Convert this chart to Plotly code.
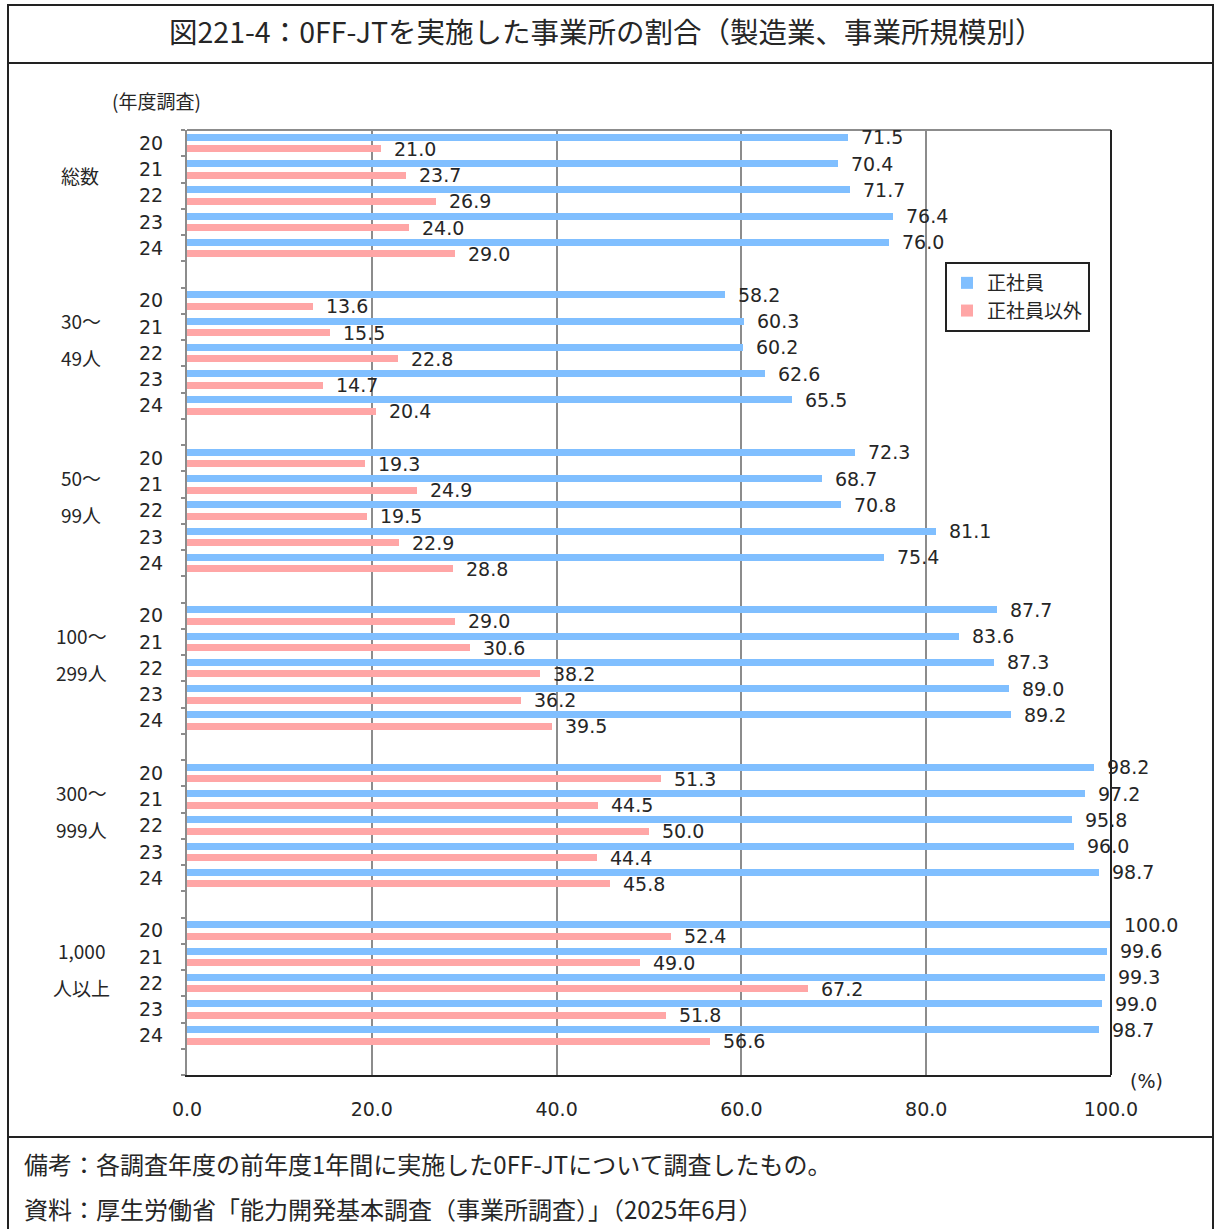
import plotly.graph_objects as go

# ---- data -------------------------------------------------------------
years = ["20", "21", "22", "23", "24"]
group_line1 = ["総数", "30～", "50～", "100～", "300～", "1,000"]
group_line2 = ["", "49人", "99人", "299人", "999人", "人以上"]

regular = [
    [71.5, 70.4, 71.7, 76.4, 76.0],
    [58.2, 60.3, 60.2, 62.6, 65.5],
    [72.3, 68.7, 70.8, 81.1, 75.4],
    [87.7, 83.6, 87.3, 89.0, 89.2],
    [98.2, 97.2, 95.8, 96.0, 98.7],
    [100.0, 99.6, 99.3, 99.0, 98.7],
]
non_regular = [
    [21.0, 23.7, 26.9, 24.0, 29.0],
    [13.6, 15.5, 22.8, 14.7, 20.4],
    [19.3, 24.9, 19.5, 22.9, 28.8],
    [29.0, 30.6, 38.2, 36.2, 39.5],
    [51.3, 44.5, 50.0, 44.4, 45.8],
    [52.4, 49.0, 67.2, 51.8, 56.6],
]
series_names = ["正社員", "正社員以外"]
x_ticks = [0, 20, 40, 60, 80, 100]

title_text = "図221-4：0FF-JTを実施した事業所の割合（製造業、事業所規模別）"
note_text = "備考：各調査年度の前年度1年間に実施した0FF-JTについて調査したもの。"
source_text = "資料：厚生労働省「能力開発基本調査（事業所調査）」（2025年6月）"

# ---- layout helpers -----------------------------------------------------
W, H = 1215, 1229
BLUE = "#80bfff"
PINK = "#ffa6a6"
TXT = "#262626"
GRID = "#8c8c8c"
JP = "Noto Sans CJK JP"
NUM = "DejaVu Sans"


def px(x):
    return x / W


def py(y):
    return 1 - y / H


SLOT = 6            # 5 years + 1 blank slot per group
OFF = 0.22          # vertical offset of each series from slot centre
BAR_W = 0.26

pos, ylab = [], []
for g in range(len(regular)):
    for i, yr in enumerate(years):
        pos.append(g * SLOT + i)
        ylab.append(yr)

reg_flat = [v for grp in regular for v in grp]
non_flat = [v for grp in non_regular for v in grp]
n_slots = len(regular) * SLOT - 1

fig = go.Figure()
fig.add_trace(go.Bar(
    x=reg_flat, y=[p - OFF for p in pos], orientation="h", width=BAR_W,
    marker=dict(color=BLUE, line=dict(width=0)), name=series_names[0],
    legendgroup="a", hoverinfo="x",
))
fig.add_trace(go.Bar(
    x=non_flat, y=[p + OFF for p in pos], orientation="h", width=BAR_W,
    marker=dict(color=PINK, line=dict(width=0)), name=series_names[1],
    legendgroup="b", hoverinfo="x",
))

ann = []
# value labels at the end of every bar
for vals, sign in ((reg_flat, -1), (non_flat, 1)):
    for v, p in zip(vals, pos):
        ann.append(dict(
            x=v, y=p + sign * OFF, xref="x", yref="y", text=f"{v:.1f}",
            showarrow=False, xanchor="left", xshift=11,
            font=dict(family=NUM, size=19, color=TXT),
        ))

# size-class labels on the left
for g, (l1, l2) in enumerate(zip(group_line1, group_line2)):
    base = g * SLOT
    if l2:
        ann.append(dict(x=px(81), y=base + 0.75, xref="paper", yref="y", text=l1,
                        showarrow=False, xanchor="center",
                        font=dict(family=JP, size=19, color=TXT)))
        ann.append(dict(x=px(81), y=base + 2.15, xref="paper", yref="y", text=l2,
                        showarrow=False, xanchor="center",
                        font=dict(family=JP, size=19, color=TXT)))
    else:
        ann.append(dict(x=px(80), y=base + 1.25, xref="paper", yref="y", text=l1,
                        showarrow=False, xanchor="center",
                        font=dict(family=JP, size=19, color=TXT)))

# free text
ann += [
    dict(x=px(606), y=py(30), xref="paper", yref="paper", text=title_text,
         showarrow=False, xanchor="center", yanchor="middle",
         font=dict(family=JP, size=28.5, color=TXT)),
    dict(x=px(110), y=py(101), xref="paper", yref="paper", text="(年度調査)",
         showarrow=False, xanchor="left", yanchor="middle",
         font=dict(family=JP, size=19, color=TXT)),
    dict(x=px(1146), y=py(1081), xref="paper", yref="paper", text="(%)",
         showarrow=False, xanchor="center", yanchor="middle",
         font=dict(family=NUM, size=19, color=TXT)),
    dict(x=px(22), y=py(1163), xref="paper", yref="paper", text=note_text,
         showarrow=False, xanchor="left", yanchor="middle",
         font=dict(family=JP, size=24, color=TXT)),
    dict(x=px(22), y=py(1208), xref="paper", yref="paper", text=source_text,
         showarrow=False, xanchor="left", yanchor="middle",
         font=dict(family=JP, size=24, color=TXT)),
]

frame = dict(color="#222222", width=2)
shapes = [
    # outer frame and dividers
    dict(type="rect", xref="paper", yref="paper", x0=px(8), x1=px(1213),
         y0=py(1240), y1=py(5), line=frame),
    dict(type="line", xref="paper", yref="paper", x0=px(8), x1=px(1213),
         y0=py(63), y1=py(63), line=frame),
    dict(type="line", xref="paper", yref="paper", x0=px(8), x1=px(1213),
         y0=py(1137), y1=py(1137), line=frame),
    # plot-area top (grey) and right (dark) borders
    dict(type="line", xref="x domain", yref="y domain", x0=0, x1=1, y0=1, y1=1,
         line=dict(color=GRID, width=2)),
    dict(type="line", xref="x domain", yref="y domain", x0=1, x1=1, y0=0, y1=1,
         line=dict(color="#222222", width=2)),
]

fig.update_layout(
    width=W, height=H, autosize=False,
    margin=dict(l=0, r=0, t=0, b=0, autoexpand=False),
    paper_bgcolor="white", plot_bgcolor="white",
    barmode="overlay", bargap=0,
    annotations=ann, shapes=shapes,
    showlegend=True,
    legend=dict(
        x=px(945), y=py(262), xanchor="left", yanchor="top",
        bgcolor="white", bordercolor="#222222", borderwidth=2,
        font=dict(family=JP, size=19, color=TXT),
        tracegroupgap=6, traceorder="normal",
    ),
    xaxis=dict(
        domain=[px(187), px(1111)], range=[0, 100], automargin=False,
        tickvals=x_ticks, tickformat=".1f", ticks="",
        ticklabelstandoff=16,
        tickfont=dict(family=NUM, size=19, color=TXT),
        showgrid=True, gridcolor=GRID, gridwidth=1.5, zeroline=False,
        showline=True, linecolor="#222222", linewidth=2,
    ),
    yaxis=dict(
        domain=[py(1075), py(130)], range=[n_slots + 0.5, -0.5], automargin=False,
        tickmode="array", tickvals=pos, ticktext=ylab, ticks="",
        ticklabelstandoff=18,
        tickfont=dict(family=NUM, size=19, color=TXT),
        showgrid=False, zeroline=False,
        showline=True, linecolor=GRID, linewidth=2,
        minor=dict(tickmode="array",
                   tickvals=[k + 0.5 for k in range(-1, n_slots + 1)],
                   ticks="outside", ticklen=4, tickcolor=GRID, tickwidth=1.5,
                   showgrid=False),
    ),
)

fig.write_html("out.html")
